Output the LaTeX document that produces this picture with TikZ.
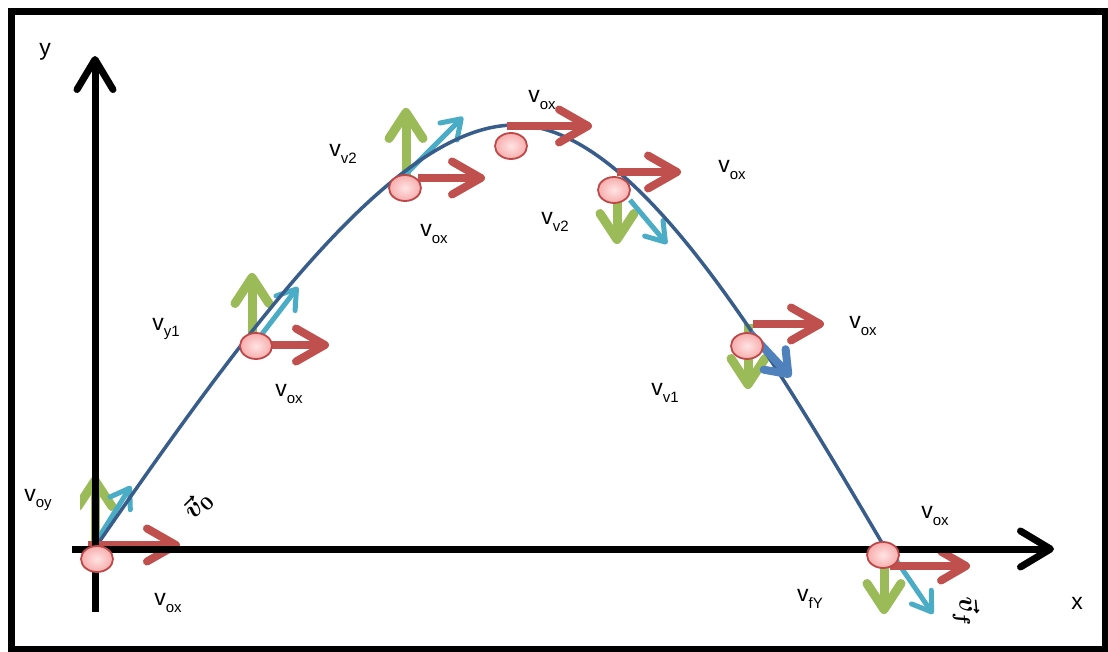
\documentclass[tikz,border=0pt]{standalone}
\usepackage{fontspec}
\setmainfont{Liberation Sans}
\usetikzlibrary{arrows.meta,shapes.geometric}
\definecolor{vred}{RGB}{192,80,77}
\definecolor{vgreen}{RGB}{155,187,89}
\definecolor{vcyan}{RGB}{75,172,198}
\definecolor{vblue}{RGB}{79,129,189}
\definecolor{vcurve}{RGB}{56,93,138}
\definecolor{balledge}{RGB}{190,72,72}
\definecolor{ballin}{RGB}{255,228,228}
\definecolor{ballout}{RGB}{247,172,172}
\newcommand{\vlab}[1]{v\raisebox{-0.3em}{\fontsize{15}{15}\selectfont #1}}
\begin{document}
\begin{tikzpicture}[x=1pt,y=-1pt,
  frame/.style={line width=7pt},
  axis/.style={line width=7pt,-{Straight Barb[round,length=30pt,width=36pt]}},
  redarr/.style={draw=vred,line width=8pt,-{Straight Barb[round,length=29pt,width=33pt]}},
  redsmall/.style={draw=vred,line width=8pt,-{Straight Barb[round,length=25pt,width=29pt]}},
  greenarr/.style={draw=vgreen,line width=9pt,-{Straight Barb[round,length=26pt,width=34pt]}},
  cyanarr/.style={draw=vcyan,line width=5pt,-{Straight Barb[round,length=18pt,width=24pt]}},
  bluearr/.style={draw=vblue,line width=8pt,-{Straight Barb[round,length=20pt,width=30pt]}},
  curve/.style={draw=vcurve,line width=3.5pt},
  ball/.style={ellipse,draw=balledge,line width=1.8pt,inner color=ballin,outer color=ballout,minimum width=32pt,minimum height=26pt,inner sep=0pt},
  lab/.style={font=\fontsize{23}{23}\selectfont,inner sep=0pt},
  veclab/.style={inner sep=0pt,scale=2.7,font=\boldmath}]
\useasboundingbox (0,0) rectangle (1108,652);
\fill[white] (0,0) rectangle (1108,652);
\draw[frame] (11,12) rectangle (1105,649);

% coordinates
\coordinate (o) at (95,548);
\coordinate (top) at (515,125);
\coordinate (land) at (885,548);
\coordinate (ytail) at (95,612);
\coordinate (yhead) at (95,56);
\coordinate (xtail) at (72,549);
\coordinate (xhead) at (1054,549);

% green arrows
\begin{scope}
\clip (80,400) rectangle (200,560);
\coordinate (g1a) at (95,548); \coordinate (g1b) at (95,476);
\draw[greenarr] (g1a) -- (g1b);
\end{scope}
\coordinate (g2a) at (252,333); \coordinate (g2b) at (252,273);
\coordinate (g3a) at (406,175); \coordinate (g3b) at (406,108);
\coordinate (g5a) at (617,200); \coordinate (g5b) at (617,244);
\coordinate (g6a) at (748,324); \coordinate (g6b) at (748,389);
\coordinate (g7a) at (884,565); \coordinate (g7b) at (884,614);
\draw[greenarr] (g2a) -- (g2b);
\draw[greenarr] (g3a) -- (g3b);
\draw[greenarr] (g5a) -- (g5b);
\draw[greenarr] (g6a) -- (g6b);
\draw[greenarr] (g7a) -- (g7b);

% cyan arrows
\coordinate (c1a) at (96,542); \coordinate (c1b) at (131,486);
\coordinate (c2a) at (262,334); \coordinate (c2b) at (298,287);
\coordinate (c3a) at (404,176); \coordinate (c3b) at (463,117);
\coordinate (c5a) at (630,200); \coordinate (c5b) at (667,244);
\coordinate (c7a) at (896,560); \coordinate (c7b) at (933,614);
\draw[cyanarr] (c1a) -- (c1b);
\draw[cyanarr] (c2a) -- (c2b);
\draw[cyanarr] (c3a) -- (c3b);
\draw[cyanarr] (c5a) -- (c5b);
\draw[cyanarr] (c7a) -- (c7b);

% trajectory
\draw[curve] (o) .. controls (245,330.5) and (395,125) .. (top)
  .. controls (635,125) and (765,344) .. (land);

% red arrows
\coordinate (r1a) at (88,545); \coordinate (r1b) at (180,545);
\coordinate (r2a) at (268,345); \coordinate (r2b) at (329,345);
\coordinate (r3a) at (418,178); \coordinate (r3b) at (485,178);
\coordinate (r4a) at (507,126); \coordinate (r4b) at (592,126);
\coordinate (r5a) at (617,172); \coordinate (r5b) at (681,172);
\coordinate (r6a) at (753,324); \coordinate (r6b) at (824,324);
\coordinate (r7a) at (890,566); \coordinate (r7b) at (970,566);
\draw[redarr] (r1a) -- (r1b);
\draw[redarr] (r2a) -- (r2b);
\draw[redarr] (r3a) -- (r3b);
\draw[redarr] (r4a) -- (r4b);
\draw[redarr] (r5a) -- (r5b);
\draw[redarr] (r6a) -- (r6b);
\draw[redsmall] (r7a) -- (r7b);

% axes
\draw[axis] (xtail) -- (xhead);
\draw[axis] (ytail) -- (yhead);

% blue arrow
\coordinate (b6a) at (750,333); \coordinate (b6b) at (791,377);
\draw[bluearr] (b6a) -- (b6b);

% balls
\node[ball] (p1) at (97,559) {};
\node[ball] (p2) at (256,346) {};
\node[ball] (p3) at (405,188) {};
\node[ball] (p4) at (511,146) {};
\node[ball] (p5) at (614,190) {};
\node[ball] (p6) at (747,346) {};
\node[ball] (p7) at (883,555) {};

% labels
\node[lab] (ly) at (45,52) {y};
\node[lab] (lx) at (1077,603) {x};
\node[lab] (l1) at (38,500) {\vlab{oy}};
\node[lab] (l2) at (168,603) {\vlab{ox}};
\node[lab] (l3) at (289,394) {\vlab{ox}};
\node[lab] (l4) at (166,329) {\vlab{y1}};
\node[lab] (l5) at (343,154) {\vlab{v2}};
\node[lab] (l6) at (434,234) {\vlab{ox}};
\node[lab] (l7) at (542,100) {\vlab{ox}};
\node[lab] (l8) at (732,170) {\vlab{ox}};
\node[lab] (l9) at (555,222) {\vlab{v2}};
\node[lab] (l10) at (863,326) {\vlab{ox}};
\node[lab] (l11) at (665,393) {\vlab{v1}};
\node[lab] (l12) at (935,516) {\vlab{ox}};
\node[lab] (l13) at (810,599) {\vlab{fY}};
\node[veclab,rotate=45] (lv0) at (198,505) {$\vec{v}_0$};
\node[veclab,rotate=-85] (lvf) at (966,612) {$\vec{v}_f$};
\end{tikzpicture}
\end{document}
